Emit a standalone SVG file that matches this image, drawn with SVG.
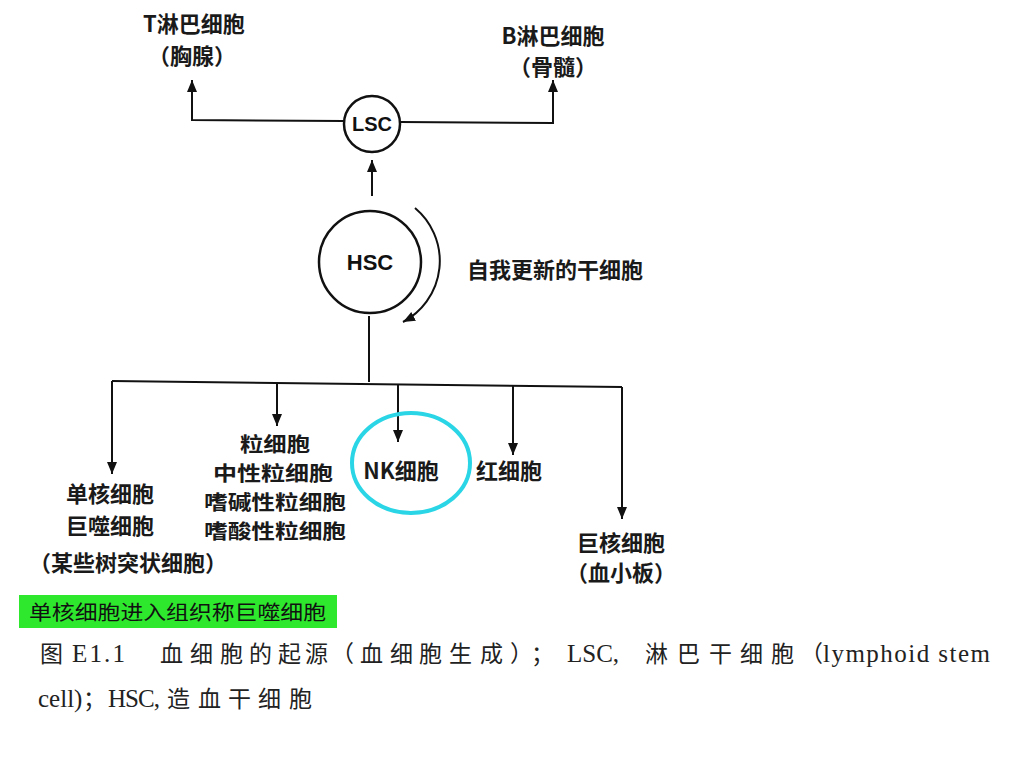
<svg xmlns="http://www.w3.org/2000/svg" width="1024" height="768" viewBox="0 0 1024 768">
<defs>
<marker id="ah" markerUnits="userSpaceOnUse" markerWidth="12" markerHeight="14" refX="12" refY="5" orient="auto">
<path d="M0,0 L12,5 L0,10 Z" fill="#111"/>
</marker>
<style>
.ln{fill:none;stroke:#111;stroke-width:2}
.cir{fill:#fff;stroke:#111;stroke-width:2.5}
.lb{font-family:"Noto Sans CJK SC","Liberation Sans",sans-serif;font-size:22px;font-weight:bold;fill:#1a1a1a;text-anchor:middle}
.sm{font-size:20px}
.ab{font-family:"Liberation Sans",Arial,sans-serif;font-weight:bold;fill:#111;text-anchor:middle}
.cj{font-family:"Noto Sans CJK SC",sans-serif;font-size:23px;fill:#222}
.lt{font-family:"Liberation Serif","Times New Roman",serif;font-size:25px;fill:#222}
</style>
</defs>
<rect width="1024" height="768" fill="#fff"/>
<g id="connectors">
<path class="ln" d="M344,121 L192,120 L192,80" marker-end="url(#ah)"/>
<path class="ln" d="M400,122 L553,123 L553,80" marker-end="url(#ah)"/>
<path class="ln" d="M372,196 L372,160" marker-end="url(#ah)"/>
<path class="ln" d="M415,208 A69,69 0 0 1 403,322" marker-end="url(#ah)"/>
<path class="ln" d="M369,316 L369,382"/>
<path class="ln" d="M112,381 L622,387"/>
<path class="ln" d="M112,381 L112,474" marker-end="url(#ah)"/>
<path class="ln" d="M277,383 L277,426" marker-end="url(#ah)"/>
<path class="ln" d="M398,384 L398,442" marker-end="url(#ah)"/>
<path class="ln" d="M513,385 L513,455" marker-end="url(#ah)"/>
<path class="ln" d="M622,387 L622,519" marker-end="url(#ah)"/>
</g>
<g id="T">
<text class="lb" x="194" y="32">T淋巴细胞</text>
<text class="lb" x="192" y="64">（胸腺）</text>
</g>
<g id="B">
<text class="lb" x="553" y="44">B淋巴细胞</text>
<text class="lb" x="553" y="75">（骨髓）</text>
</g>
<g id="LSC">
<circle class="cir" cx="372" cy="124" r="28"/>
<text class="ab" x="372" y="131" font-size="20">LSC</text>
</g>
<g id="HSC">
<circle class="cir" cx="370" cy="262" r="51"/>
<text class="ab" x="370" y="270" font-size="22">HSC</text>
</g>
<g id="selfrenew">
<text class="lb" x="555" y="278" font-size="24" font-weight="normal">自我更新的干细胞</text>
</g>
<g id="mono">
<text class="lb" x="110" y="502">单核细胞</text>
<text class="lb" x="110" y="534">巨噬细胞</text>
<text class="lb" x="128" y="571">（某些树突状细胞）</text>
</g>
<g id="gran">
<text class="lb sm" x="275" y="452" textLength="70" lengthAdjust="spacingAndGlyphs">粒细胞</text>
<text class="lb sm" x="273" y="481" textLength="120" lengthAdjust="spacingAndGlyphs">中性粒细胞</text>
<text class="lb sm" x="275" y="510" textLength="142" lengthAdjust="spacingAndGlyphs">嗜碱性粒细胞</text>
<text class="lb sm" x="275" y="539" textLength="142" lengthAdjust="spacingAndGlyphs">嗜酸性粒细胞</text>
</g>
<g id="NK">
<ellipse cx="411" cy="463" rx="59" ry="50" fill="none" stroke="#2ad6e6" stroke-width="4"/>
<text class="lb" x="401" y="479">NK细胞</text>
</g>
<g id="RBC">
<text class="lb" x="509" y="479">红细胞</text>
</g>
<g id="mega">
<text class="lb" x="621" y="551">巨核细胞</text>
<text class="lb" x="621" y="581">（血小板）</text>
</g>
<g id="note">
<rect x="19" y="595" width="318" height="33" fill="#2ee82e"/>
<text x="29" y="620" font-family="Noto Sans CJK SC,sans-serif" font-size="20" fill="#111" textLength="297" lengthAdjust="spacingAndGlyphs">单核细胞进入组织称巨噬细胞</text>
</g>
<g id="caption">
<text class="cj" x="40" y="662">图</text>
<text class="lt" x="72" y="662" textLength="53">E1.1</text>
<text class="cj" x="160 190 220 249 278 305" y="662">血细胞的起源</text>
<text class="cj" x="331" y="662">（</text>
<text class="cj" x="360 390 419 449 480" y="662">血细胞生成</text>
<text class="cj" x="510 531" y="662">）；</text>
<text class="lt" x="567" y="662">LSC,</text>
<text class="cj" x="645 677 709 740 771" y="662">淋巴干细胞</text>
<text class="cj" x="800" y="662">（</text>
<text class="lt" x="823" y="662" textLength="167">lymphoid stem</text>
<text class="lt" x="38" y="707">cell)</text>
<text class="cj" x="83" y="707">；</text>
<text class="lt" x="108" y="707" textLength="52">HSC,</text>
<text class="cj" x="167 198 228 258 289" y="707">造血干细胞</text>
</g>
</svg>
